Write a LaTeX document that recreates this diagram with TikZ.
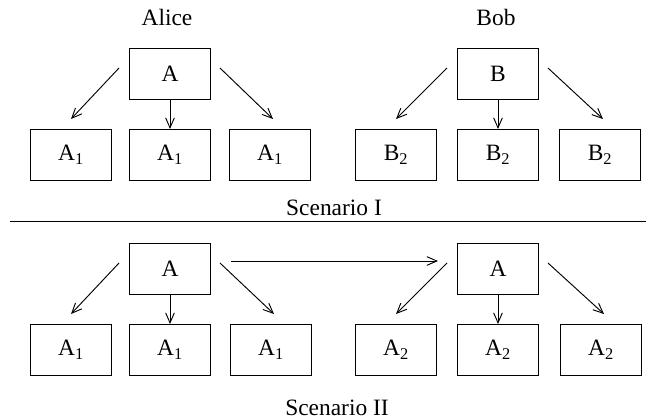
\documentclass[tikz,border=0pt]{standalone}
\usepackage{fontspec}
\setmainfont{Liberation Serif}
\usetikzlibrary{arrows.meta}

\begin{document}
\begin{tikzpicture}[x=0.03cm,y=-0.03cm,
		every node/.style={font=\fontsize{20}{24}\selectfont},
		box/.style={draw,line width=0.8pt,minimum width=2.43cm,minimum height=1.53cm,inner sep=0pt},
		lab/.style={anchor=base},
		link/.style={line width=0.8pt,-{Straight Barb[length=3mm,width=2.6mm]}}]
		
		\useasboundingbox (0,0) rectangle (647,419);
		
		%--- Scenario I: two separate parties ---
		\node[lab] (alice) at (167,25) {Alice};
		\node[lab] (bob)   at (496,25) {Bob};
		\node[box] (pa) at (170,73.5) {A};
		\node[box] (pb) at (498,73.5) {B};
		\foreach \i/\x in {1/71, 2/170, 3/270}{
			\node[box] (a\i) at (\x,155) {A\textsubscript{1}};
		}
		\foreach \i/\x in {1/396, 2/498, 3/600}{
			\node[box] (b\i) at (\x,155) {B\textsubscript{2}};
		}
		
		% fan-out arrows
		\draw[link] ([shift={(-10,-5.5)}]pa.west) -- ([shift={(0,-10)}]a1.north);
		\draw[link] (pa.south) -- (a2.north);
		\draw[link] ([shift={(9,-5.5)}]pa.east) -- ([shift={(3,-10)}]a3.north);
		\draw[link] ([shift={(-10,-5.5)}]pb.west) -- ([shift={(0,-10)}]b1.north);
		\draw[link] (pb.south) -- (b2.north);
		\draw[link] ([shift={(9,-5.5)}]pb.east) -- ([shift={(3,-10)}]b3.north);
		
		\node[lab] (scen1) at (334,215) {Scenario I};
		
		% separator
		\draw[line width=0.8pt] (10,221) -- (646,221);
		
		%--- Scenario II: A hands over to A ---
		\node[box] (qa) at (170,268.5) {A};
		\node[box] (qb) at (498,268.5) {A};
		\foreach \i/\x in {1/71, 2/170, 3/271}{
			\node[box] (c\i) at (\x,350) {A\textsubscript{1}};
		}
		\foreach \i/\x in {1/396, 2/498, 3/601}{
			\node[box] (d\i) at (\x,350) {A\textsubscript{2}};
		}
		
		\draw[link] ([shift={(20,-7.5)}]qa.east) -- ([shift={(-19,-7.5)}]qb.west);
		
		\draw[link] ([shift={(-10,-5.5)}]qa.west) -- ([shift={(0,-10)}]c1.north);
		\draw[link] (qa.south) -- (c2.north);
		\draw[link] ([shift={(9,-5.5)}]qa.east) -- ([shift={(3,-10)}]c3.north);
		\draw[link] ([shift={(-10,-5.5)}]qb.west) -- ([shift={(0,-10)}]d1.north);
		\draw[link] (qb.south) -- (d2.north);
		\draw[link] ([shift={(9,-5.5)}]qb.east) -- ([shift={(3,-10)}]d3.north);
		
		\node[lab] (scen2) at (337,415) {Scenario II};
		
	\end{tikzpicture}
\end{document}
